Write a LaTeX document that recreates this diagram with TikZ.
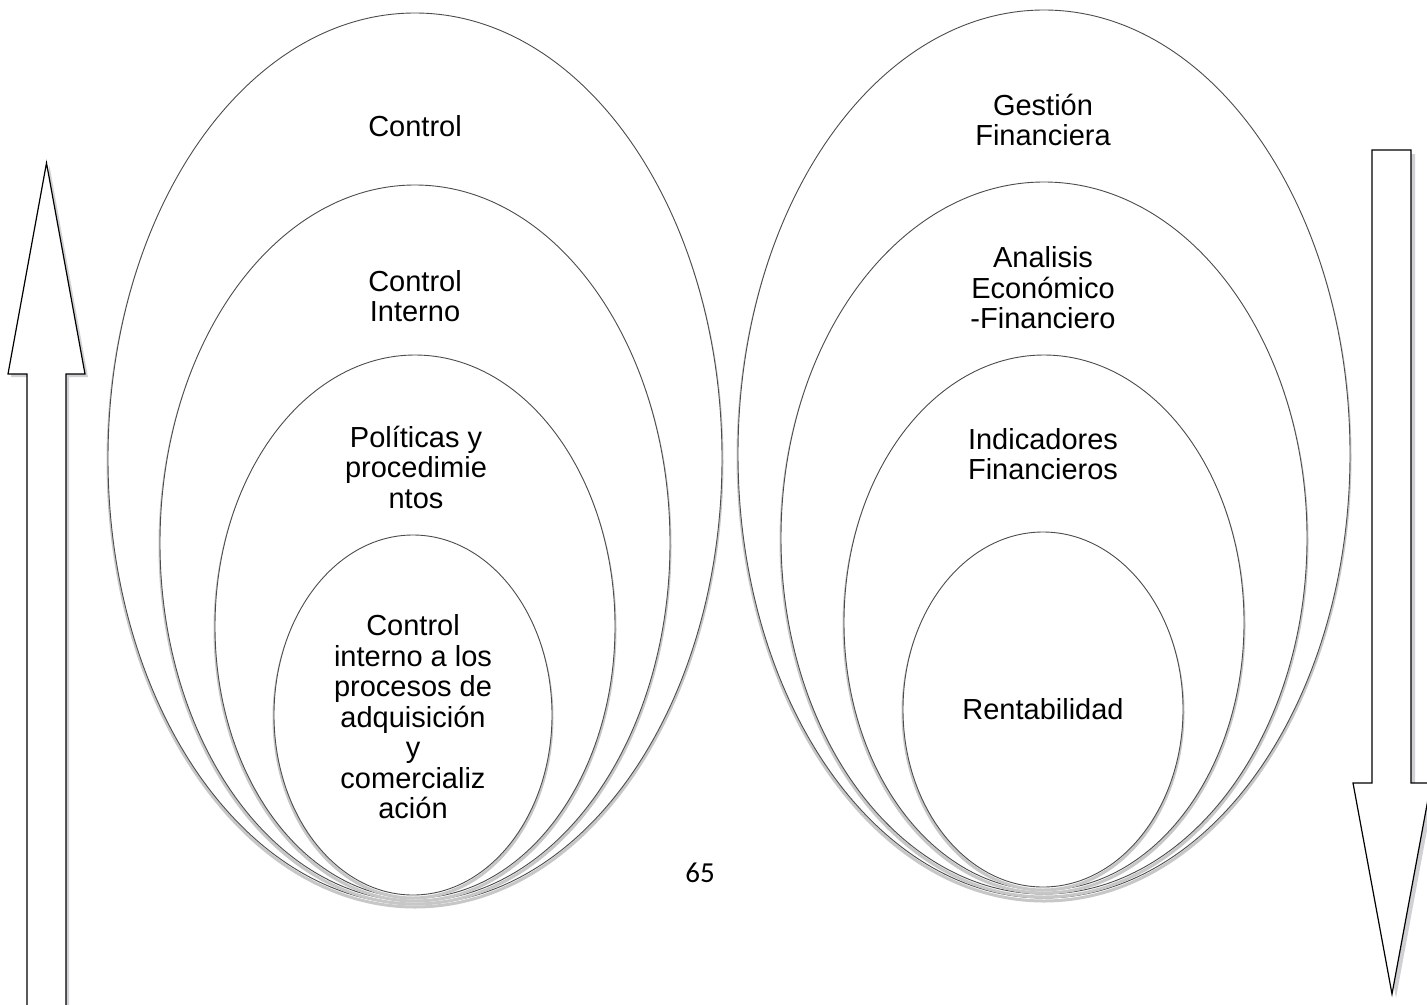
\documentclass[tikz,border=0pt]{standalone}
\usepackage{fontspec}
\setmainfont{Liberation Sans}
\newfontfamily\pagenumfont{Carlito}
\begin{document}
\begin{tikzpicture}[x=1pt,y=-1pt,
  ring/.style={draw=black!70, line width=0.9pt, fill=white},
  ringshadow/.style={draw=black!22, line width=3pt},
  label/.style={align=center, inner sep=0pt, font=\fontsize{29}{30.5}\selectfont},
  blockarrow/.style={draw=black, line width=1.2pt, fill=white, line join=miter},
  arrowshadow/.style={draw=none, fill=blue!8!black!18}
]
\useasboundingbox (0,0) rectangle (1427,1004);
\clip (0,0) rectangle (1427,1004);

% left nest of ellipses, outer to inner
\foreach \cx/\cy/\rx/\ry in {415/458.5/307/445.5, 415/543/255/358, 415/626.5/200/271.5, 413/715/139/180}{
  \draw[ringshadow] (\cx,\cy+3) ellipse [x radius=\rx, y radius=\ry];
  \draw[ring] (\cx,\cy) ellipse [x radius=\rx, y radius=\ry];
}

% right nest of ellipses, outer to inner
\foreach \cx/\cy/\rx/\ry in {1044/454/306/444, 1044/538/263/356, 1044/622.5/200/267.5, 1043/709.5/140/177.5}{
  \draw[ringshadow] (\cx,\cy+3) ellipse [x radius=\rx, y radius=\ry];
  \draw[ring] (\cx,\cy) ellipse [x radius=\rx, y radius=\ry];
}

% labels of the left nest
\node[label] (control) at (415,126) {Control};
\node[label] (cinterno) at (415,296) {Control\\Interno};
\node[label] (politicas) at (416,467) {Políticas y\\procedimie\\ntos};
\node[label] (procesos) at (413,717) {Control\\interno a los\\procesos de\\adquisición\\y\\comercializ\\ación};

% labels of the right nest
\node[label] (gestion) at (1043,120) {Gestión\\Financiera};
\node[label] (analisis) at (1043,288) {Analisis\\Económico\\-Financiero};
\node[label] (indicadores) at (1043,454) {Indicadores\\Financieros};
\node[label] (rentabilidad) at (1043,709) {Rentabilidad};

% page number
\node[font=\pagenumfont\fontsize{29}{32}\selectfont, inner sep=0pt] (pagenum) at (700,873) {65};

% upward block arrow on the left
\begin{scope}[shift={(3,3)}]
  \fill[arrowshadow] (46.5,163) -- (85,374) -- (66,374) -- (66,1010) -- (27,1010) -- (27,374) -- (8,374) -- cycle;
\end{scope}
\draw[blockarrow] (46.5,163) -- (85,374) -- (66,374) -- (66,1010) -- (27,1010) -- (27,374) -- (8,374) -- cycle;

% downward block arrow on the right
\begin{scope}[shift={(4,4)}]
  \fill[arrowshadow] (1372,150) -- (1411,150) -- (1411,783) -- (1431,783) -- (1392,994) -- (1353,783) -- (1372,783) -- cycle;
\end{scope}
\draw[blockarrow] (1372,150) -- (1411,150) -- (1411,783) -- (1431,783) -- (1392,994) -- (1353,783) -- (1372,783) -- cycle;
\end{tikzpicture}
\end{document}
